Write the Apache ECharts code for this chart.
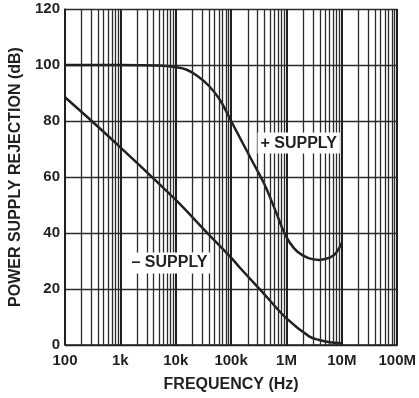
<!DOCTYPE html>
<html>
<head>
<meta charset="utf-8">
<style>html,body{margin:0;padding:0;background:#fff}#c{width:419px;height:398px}</style>
<script src="https://cdn.jsdelivr.net/npm/echarts@6/dist/echarts.min.js"></script>
</head>
<body>
<div id="c"></div>
<script>
// Frequencies (Hz) and PSRR (dB)
const plusFreq = [100, 1000, 5000, 10000, 15800, 25000, 40000, 63000, 100000, 158000, 251000, 398000, 631000, 871000, 1150000, 1580000, 2500000, 3900000, 6000000, 7800000, 10000000];
const plusPSRR = [100, 100, 99.8, 99.2, 98.3, 96.0, 92.5, 87.5, 80.0, 72.5, 65.0, 57.5, 48.0, 41.0, 36.5, 33.3, 31.0, 30.4, 31.2, 32.8, 36.5];
const minusFreq = [100, 300, 1000, 10000, 37600, 100000, 147000, 400000, 1000000, 2600000, 3900000, 6000000, 10000000];
const minusPSRR = [88.5, 80.1, 70.6, 51.8, 39.9, 31.2, 27.4, 18.1, 9.5, 3.0, 1.8, 1.0, 0.6];
const xTickLabels = ['100', '1k', '10k', '100k', '1M', '10M', '100M'];
const yTicks = [0, 20, 40, 60, 80, 100, 120];
const plusLabel = { text: '+ SUPPLY', freq: 1660000, db: 72.1 };
const minusLabel = { text: '– SUPPLY', freq: 7700, db: 29.3 };

const minorLines = [];
for (let d = 100; d < 1e8; d *= 10) {
  for (let m = 2; m <= 9; m++) minorLines.push({ xAxis: d * m });
}
const zip = (a, b) => a.map((v, i) => [v, b[i]]);
const font = 'Liberation Sans, Arial, Helvetica, sans-serif';
const ink = '#231f20';

const labelStyle = {
  show: true, position: 'inside', formatter: p => p.name,
  fontFamily: font, fontWeight: 'bold', fontSize: 16, color: ink,
  backgroundColor: '#fff', padding: [3, 3, 2, 3]
};

const chart = echarts.init(document.getElementById('c'), null, { renderer: 'canvas' });
chart.setOption({
  animation: false,
  grid: { left: 62, right: 20, top: 9, bottom: 53 },
  xAxis: {
    type: 'log', logBase: 10, min: 100, max: 1e8,
    name: 'FREQUENCY (Hz)', nameLocation: 'middle', nameGap: 32,
    nameTextStyle: { fontFamily: font, fontWeight: 'bold', fontSize: 16, color: ink },
    axisLine: { lineStyle: { color: ink, width: 1.5 } },
    axisTick: { show: false },
    axisLabel: {
      fontFamily: font, fontWeight: 'bold', fontSize: 15, color: ink, margin: 8,
      formatter: v => xTickLabels[Math.round(Math.log10(v)) - 2]
    },
    splitLine: { show: true, lineStyle: { color: ink, width: 2 } }
  },
  yAxis: {
    type: 'value', min: 0, max: 120, interval: 20,
    name: 'POWER SUPPLY REJECTION (dB)', nameLocation: 'middle', nameGap: 41,
    nameTextStyle: { fontFamily: font, fontWeight: 'bold', fontSize: 16, color: ink },
    axisLine: { show: true, lineStyle: { color: ink, width: 1.5 } },
    axisTick: { show: false },
    axisLabel: {
      fontFamily: font, fontWeight: 'bold', fontSize: 15, color: ink, margin: 5,
      formatter: v => yTicks.includes(v) ? String(v) : ''
    },
    splitLine: { show: true, lineStyle: { color: '#2a2a2a', width: 1.3 } }
  },
  series: [
    {
      type: 'line', data: [], z: 1, silent: true,
      markLine: {
        silent: true, symbol: ['none', 'none'], label: { show: false },
        lineStyle: { color: '#2a2a2a', width: 1.3, type: 'solid' },
        data: minorLines, animation: false
      }
    },
    {
      name: '+ SUPPLY', type: 'line', smooth: 0.35, showSymbol: false, z: 3,
      lineStyle: { color: ink, width: 2.5 },
      data: zip(plusFreq, plusPSRR),
      markPoint: {
        symbol: 'rect', symbolSize: 0, z: 5, label: labelStyle,
        data: [{ name: plusLabel.text, coord: [plusLabel.freq, plusLabel.db] }]
      }
    },
    {
      name: '– SUPPLY', type: 'line', smooth: 0.35, showSymbol: false, z: 3,
      lineStyle: { color: ink, width: 2.5 },
      data: zip(minusFreq, minusPSRR),
      markPoint: {
        symbol: 'rect', symbolSize: 0, z: 5, label: labelStyle,
        data: [{ name: minusLabel.text, coord: [minusLabel.freq, minusLabel.db] }]
      }
    }
  ]
});
</script>
</body>
</html>
